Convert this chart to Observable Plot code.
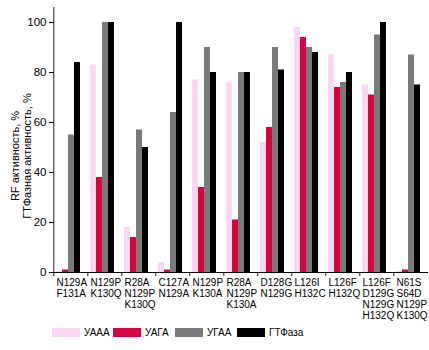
<!DOCTYPE html>
<html><head><meta charset="utf-8">
<script src="https://cdn.jsdelivr.net/npm/d3@7"></script>
<script src="https://cdn.jsdelivr.net/npm/@observablehq/plot@0.6"></script>
<style>
body{margin:0;background:#fff;font-family:"Liberation Sans",Arial,sans-serif;}
#chart{position:relative;width:429px;height:350px;overflow:hidden;}
#chart svg{position:absolute;left:0;top:0;}
.leg{position:absolute;top:327px;height:11px;display:flex;align-items:center;font-size:10px;color:#000;white-space:nowrap;}
.leg span.sw{display:inline-block;width:28px;height:9px;margin-right:4px;}
</style></head><body><div id="chart"></div>
<script>
const mutants = ["N129A\nF131A","N129P\nK130Q","R28A\nN129P\nK130Q","C127A\nN129A","N129P\nK130A","R28A\nN129P\nK130A","D128G\nN129G","L126I\nH132C","L126F\nH132Q","L126F\nD129G\nN129G\nH132Q","N61S\nS64D\nN129P\nK130Q"];
const series = ["УААА","УАГА","УГАА","ГТФаза"];
const uaaa = [0.5, 83, 18, 4, 77, 76, 52, 98, 87, 75, 0.5];
const uaga = [1, 38, 14, 1, 34, 21, 58, 94, 74, 71, 1];
const ugaa = [55, 100, 57, 64, 90, 80, 90, 90, 76, 95, 87];
const gtp  = [84, 100, 50, 100, 80, 80, 81, 88, 80, 100, 75];
const yTicks = [0, 20, 40, 60, 80, 100];
const yLabel = "RF активность, %\nГТФазная активность, %";
const colors = ["#f9d6f1","#d4053e","#7a7a7a","#000000"];

const valuesBySeries = [uaaa, uaga, ugaa, gtp];
const data = [];
mutants.forEach((m, i) => series.forEach((s, j) => data.push({mutant: m, series: s, value: valuesBySeries[j][i]})));
const seps = mutants.map((m, i) => ({mutant: m, top: i === 0 ? 106 : 0}));

const font = '"Liberation Sans",Arial,sans-serif';
const chart = Plot.plot({
  width: 429, height: 324,
  marginLeft: 52, marginRight: 0, marginTop: 7, marginBottom: 52,
  style: {fontFamily: font, fontSize: "11px", color: "#000", background: "#fff"},
  fx: {domain: mutants, padding: 0, label: null},
  x: {domain: series, paddingInner: 0, paddingOuter: 0.74, align: 0.22, axis: null},
  y: {domain: [0, 106]},
  color: {domain: series, range: colors},
  marks: [
    Plot.barY(data, {fx: "mutant", x: "series", y: "value", fill: "series"}),
    Plot.ruleY([0], {stroke: "#000"}),
    Plot.ruleX(seps, {fx: "mutant", x: () => series[0], y1: -1.6, y2: "top", dx: -5.7, stroke: "#222"}),
    Plot.axisY({ticks: yTicks, tickSize: 5, tickPadding: 3, fontSize: 11.5, label: null}),
    Plot.text([yLabel], {fx: () => mutants[0], text: d => d, frameAnchor: "left", rotate: -90, dx: -33, dy: 16, lineAnchor: "middle", textAnchor: "middle", fontSize: 11, lineHeight: 1.1}),
    Plot.axisFx({anchor: "bottom", tickSize: 0, tickPadding: 5, textAnchor: "start", dx: -15, lineHeight: 1.13, fontSize: 10, label: null})
  ]
});
const root = document.getElementById("chart");
root.appendChild(chart);
const legLefts = [52, 113, 175, 237];
series.forEach((s, i) => {
  const d = document.createElement("div");
  d.className = "leg";
  d.style.left = legLefts[i] + "px";
  d.innerHTML = `<span class="sw" style="background:${colors[i]}"></span><span>${s}</span>`;
  root.appendChild(d);
});
</script></body></html>
